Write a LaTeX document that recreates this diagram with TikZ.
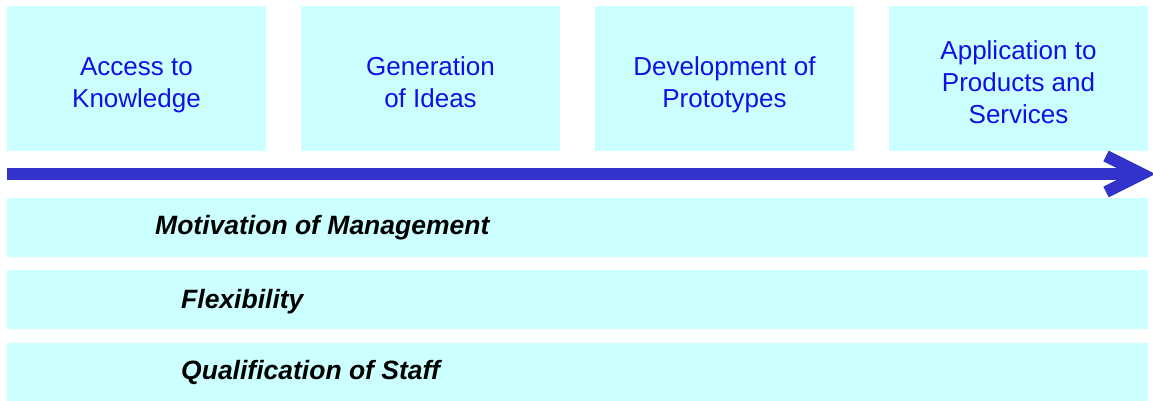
\documentclass[tikz,border=0pt]{standalone}
\usepackage{fontspec}
\setmainfont{Liberation Sans}
\begin{document}
\begin{tikzpicture}[x=1pt,y=-1pt,
  topbox/.style={fill=boxcyan,draw=none,minimum width=259pt,minimum height=145pt,inner sep=0pt},
  toptext/.style={text=textblue,font=\fontsize{26}{32}\selectfont,align=center},
  band/.style={fill=boxcyan,draw=none,inner sep=0pt},
  bandtext/.style={anchor=west,font=\fontsize{26.5}{30}\selectfont\bfseries\itshape,text=black,inner sep=0pt},
  flow/.style={draw=arrowblue,line width=12pt}
]
\definecolor{boxcyan}{RGB}{204,255,255}
\definecolor{textblue}{RGB}{16,16,230}
\definecolor{arrowblue}{RGB}{51,51,204}
\useasboundingbox (0,0) rectangle (1153,401);
\node[topbox] (k) at (136.5,78.5) {};
\node[topbox] (g) at (430.5,78.5) {};
\node[topbox] (d) at (724.5,78.5) {};
\node[topbox] (a) at (1018.5,78.5) {};
\node[toptext] (kt) at (136.5,85) {Access to\\Knowledge};
\node[toptext] (gt) at (430.5,82) {Generation\\of Ideas};
\node[toptext] (dt) at (724.5,85) {Development of\\Prototypes};
\node[toptext] (at) at (1018.5,82) {Application to\\Products and\\Services};
\coordinate (s) at (7,174);
\coordinate (t) at (1142,174);
\draw[flow] (s) -- (1136,174);
\draw[flow,line join=miter] (1106,156) -- (t) -- (1106,192);
\fill[band] (7,198) rectangle (1148,257);
\node[bandtext] (m) at (155,228) {Motivation of Management};
\fill[band] (7,270) rectangle (1148,329);
\node[bandtext] (f) at (181,302) {Flexibility};
\fill[band] (7,343) rectangle (1148,401);
\node[bandtext] (q) at (181,372) {Qualification of Staff};
\end{tikzpicture}
\end{document}
